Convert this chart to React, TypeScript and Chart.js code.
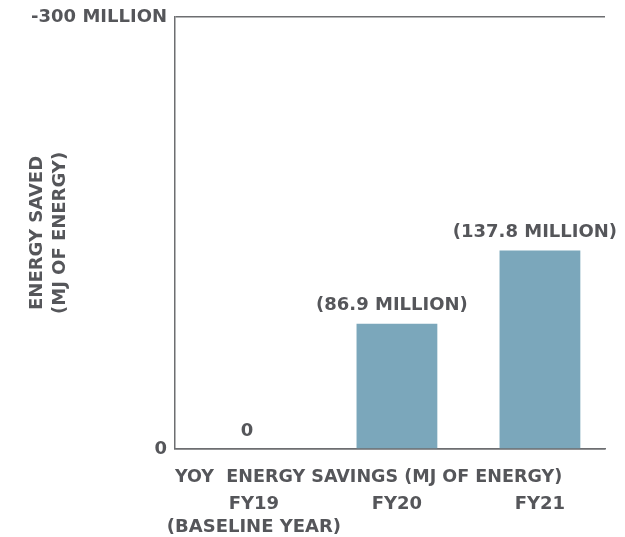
import React, { useEffect, useRef } from "react";
import { Chart, registerables } from "chart.js";

Chart.register(...registerables);

const categories: string[][] = [["FY19", "(BASELINE YEAR)"], ["FY20"], ["FY21"]];
const categoryPositions: number[] = [0, 1, 2];
const energySavedMillions: number[] = [0, -86.9, -137.8];
const yTickValues: number[] = [-300, 0];
const yTickLabels: string[] = ["-300 MILLION", "0"];
const yTitle: string[] = ["ENERGY SAVED", "(MJ OF ENERGY)"];
const xTitle = "YOY  ENERGY SAVINGS (MJ OF ENERGY)";

const TEXT = "#55565a";
const LINE = "#6d6e71";
const BAR = "#7ba7bb";
const FONT = { family: "'DejaVu Sans', sans-serif", size: 18, weight: "bold" as const, lineHeight: 1.28 };

const valueLabelPlugin = {
  id: "valueLabels",
  afterDatasetsDraw(chart: any) {
    const meta = chart.getDatasetMeta(0);
    const ctx = chart.ctx;
    ctx.save();
    ctx.font = `bold 18px 'DejaVu Sans', sans-serif`;
    ctx.fillStyle = TEXT;
    ctx.textAlign = "center";
    ctx.textBaseline = "middle";
    meta.data.forEach((el: any, i: number) => {
      const v = energySavedMillions[i];
      const txt = v === 0 ? "0" : `(${Math.abs(v).toFixed(1)} MILLION)`;
      ctx.fillText(txt, el.x - (i === 0 ? 7 : 5), el.y - 18);
    });
    ctx.restore();
  },
};

export default function App() {
  const ref = useRef<HTMLCanvasElement | null>(null);
  useEffect(() => {
    if (!ref.current) return;
    const chart = new Chart(ref.current, {
      type: "bar",
      data: {
        datasets: [
          {
            data: categoryPositions.map((x, i) => ({ x, y: energySavedMillions[i] })),
            backgroundColor: BAR,
            borderWidth: 0,
            barPercentage: 0.565,
            categoryPercentage: 1,
          },
        ],
      },
      options: {
        animation: false,
        responsive: false,
        layout: { padding: { top: 17, right: 20, bottom: -6, left: 0 } },
        plugins: { legend: { display: false }, tooltip: { enabled: false } },
        scales: {
          x: {
            type: "linear",
            position: "bottom",
            weight: 1,
            min: -0.552,
            max: 2.455,
            offset: false,
            grid: { display: false, drawTicks: false },
            border: { display: false },
            afterBuildTicks: (scale: any) => {
              scale.ticks = categoryPositions.map((v) => ({ value: v }));
            },
            ticks: {
              padding: 4,
              color: TEXT,
              font: FONT,
              maxRotation: 0,
              autoSkip: false,
              callback: (value: any) => categories[Math.round(Number(value))] ?? "",
            },
          },
          xt: {
            type: "linear",
            position: "bottom",
            weight: 0,
            grid: { display: false, drawTicks: false },
            border: { display: true, color: LINE, width: 1.5 },
            ticks: { display: false },
            title: {
              display: true,
              text: xTitle + "\u00a0\u00a0\u00a0\u00a0\u00a0\u00a0\u00a0",
              color: TEXT,
              font: FONT,
              padding: { top: 17, bottom: 0 },
            },
          },
          y: {
            type: "linear",
            reverse: true,
            min: -300,
            max: 0,
            afterBuildTicks: (scale: any) => {
              scale.ticks = yTickValues.map((v) => ({ value: v }));
            },
            afterFit: (scale: any) => {
              scale.width = 175;
            },
            grid: { display: true, color: LINE, lineWidth: 1.5, drawTicks: false },
            border: { display: true, color: LINE, width: 1.5 },
            ticks: {
              padding: 8,
              color: TEXT,
              font: { ...FONT, lineHeight: 1.0 },
              callback: (value: any) => {
                const idx = yTickValues.indexOf(Number(value));
                return idx >= 0 ? yTickLabels[idx] : "";
              },
            },
            title: {
              display: true,
              text: yTitle,
              color: TEXT,
              font: FONT,
              padding: { top: 25.5, bottom: 0 },
            },
          },
        },
      } as any,
      plugins: [valueLabelPlugin],
    });
    return () => chart.destroy();
  }, []);
  return (
    <div style={{ position: "fixed", left: 0, top: 0, width: 625, height: 537, background: "#fff" }}>
      <canvas ref={ref} width={625} height={537} style={{ display: "block", width: 625, height: 537 }} />
    </div>
  );
}
